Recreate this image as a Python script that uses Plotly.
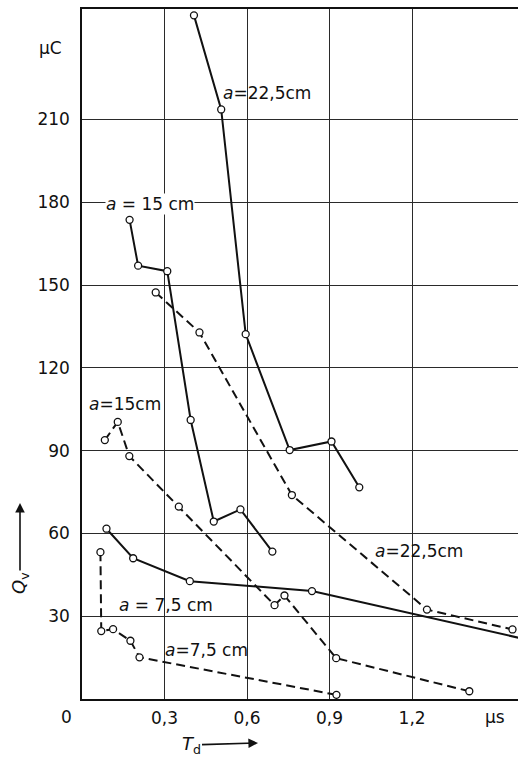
import plotly.graph_objects as go

# Delay time T_d (µs) and charge Q_v (µC) for three electrode spacings
t_225_solid = [0.407, 0.506, 0.595, 0.755, 0.907, 1.008]
q_225_solid = [247.7, 213.6, 132.2, 90.2, 93.3, 76.7]

t_15_solid = [0.173, 0.204, 0.310, 0.395, 0.479, 0.576, 0.692]
q_15_solid = [173.6, 157.0, 155.0, 101.1, 64.3, 68.7, 53.4]

t_75_solid = [0.089, 0.186, 0.392, 0.836, 1.60]
q_75_solid = [61.7, 51.0, 42.7, 39.1, 21.9]

t_225_dash = [0.268, 0.427, 0.763, 1.254, 1.565]
q_225_dash = [147.3, 132.8, 73.9, 32.4, 25.2]

t_15_dash = [0.083, 0.130, 0.172, 0.352, 0.700, 0.736, 0.924, 1.408]
q_15_dash = [93.8, 100.4, 88.0, 69.7, 34.0, 37.5, 14.8, 2.8]

t_75_dash = [0.067, 0.070, 0.113, 0.176, 0.209, 0.925]
q_75_dash = [53.2, 24.6, 25.3, 21.1, 15.1, 1.5]

x_ticks = [0.3, 0.6, 0.9, 1.2]
x_tick_text = ["0,3", "0,6", "0,9", "1,2"]
y_ticks = [30, 60, 90, 120, 150, 180, 210]
y_tick_text = ["30", "60", "90", "120", "150", "180", "210"]

INK = "#111111"
FONT = "DejaVu Sans"
W, H = 518, 760
ML, MR, MT, MB = 82, 0, 9, 61
X_MAX, Y_MAX = 1.585, 250


def px(xp, yp):
    """Pixel position -> paper coordinates."""
    return (xp - ML) / (W - ML - MR), (H - MB - yp) / (H - MT - MB)


fig = go.Figure()

series = [
    (t_225_solid, q_225_solid, "solid", None),
    (t_15_solid, q_15_solid, "solid", None),
    (t_75_solid, q_75_solid, "solid", [1, 1, 1, 1, 0]),
    (t_225_dash, q_225_dash, "9px,5px", None),
    (t_15_dash, q_15_dash, "9px,5px", None),
    (t_75_dash, q_75_dash, "9px,5px", None),
]
for xs, ys, dash, op in series:
    marker = dict(symbol="circle", size=7, color="white",
                  line=dict(color=INK, width=1.3))
    if op is not None:
        marker["opacity"] = op
    fig.add_trace(go.Scatter(
        x=xs, y=ys, mode="lines+markers",
        line=dict(color=INK, width=2, dash=dash),
        marker=marker, showlegend=False, cliponaxis=True,
    ))

# Curve labels
curve_labels = [
    (0.671, 219.6, "<i>a</i>=22,5cm", None),
    (0.249, 179.4, "<i>a</i> = 15 cm", "white"),
    (0.1545, 106.8, "<i>a</i>=15cm", None),
    (0.307, 33.9, "<i>a</i> = 7,5 cm", None),
    (0.453, 17.6, "<i>a</i>=7,5 cm", None),
    (1.224, 53.5, "<i>a</i>=22,5cm", None),
]
for x, y, txt, bg in curve_labels:
    fig.add_annotation(x=x, y=y, text=txt, showarrow=False,
                       xanchor="center", yanchor="middle",
                       font=dict(family=FONT, size=17, color=INK),
                       bgcolor=bg if bg else "rgba(0,0,0,0)", borderpad=0)


def paper_text(xp, yp, txt, size=17, **kw):
    x, y = px(xp, yp)
    fig.add_annotation(x=x, y=y, xref="paper", yref="paper", text=txt,
                       xanchor="center", yanchor="middle", showarrow=False,
                       font=dict(family=FONT, size=size, color=INK), **kw)


# Unit labels and origin
fig.add_annotation(x=1.5, y=px(0, 717)[1], xref="x", yref="paper", text="µs",
                   xanchor="center", yanchor="middle", showarrow=False,
                   font=dict(family=FONT, size=17, color=INK))
paper_text(50, 48, "µC")
paper_text(66, 717, "0")

# Axis titles, each with an arrow pointing in the growing direction
hx, hy = px(20, 503)
fig.add_annotation(x=hx, y=hy, xref="paper", yref="paper",
                   text="<i>Q</i><sub>v</sub>", textangle=-90,
                   showarrow=True, ax=0, ay=80, arrowhead=2, arrowsize=1.2,
                   arrowwidth=1.6, arrowcolor=INK,
                   font=dict(family=FONT, size=18, color=INK))
hx, hy = px(258, 743)
fig.add_annotation(x=hx, y=hy, xref="paper", yref="paper",
                   text="<i>T</i><sub>d</sub>",
                   showarrow=True, ax=-67, ay=2, arrowhead=2, arrowsize=1.2,
                   arrowwidth=1.6, arrowcolor=INK,
                   font=dict(family=FONT, size=18, color=INK))

fig.update_layout(
    width=W, height=H,
    margin=dict(l=ML, r=MR, t=MT, b=MB),
    paper_bgcolor="white", plot_bgcolor="white",
    font=dict(family=FONT, size=17, color=INK),
    xaxis=dict(range=[0, X_MAX], tickvals=x_ticks, ticktext=x_tick_text,
               showgrid=True, gridcolor="#2a2a2a", gridwidth=1.2,
               showline=True, linecolor=INK, linewidth=1.5, mirror=True,
               ticks="", ticklabelstandoff=3, zeroline=False,
               tickfont=dict(family=FONT, size=17, color=INK)),
    yaxis=dict(range=[0, Y_MAX], tickvals=y_ticks, ticktext=y_tick_text,
               showgrid=True, gridcolor="#2a2a2a", gridwidth=1.2,
               showline=True, linecolor=INK, linewidth=1.5, mirror=False,
               ticks="", ticklabelstandoff=7, zeroline=False,
               tickfont=dict(family=FONT, size=17, color=INK)),
)

fig.write_html("out.html")
